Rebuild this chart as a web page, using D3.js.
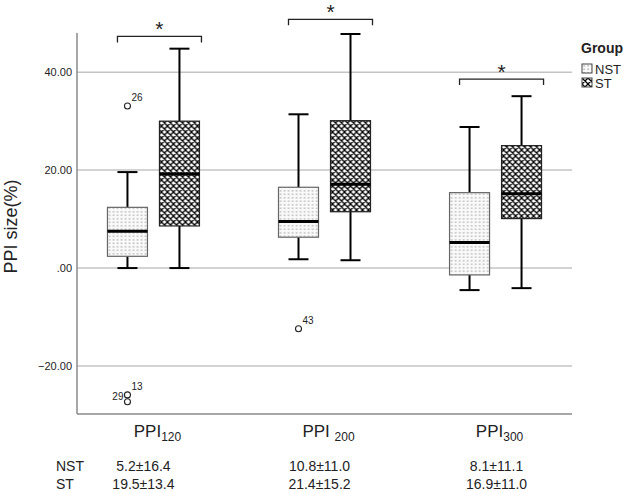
<!DOCTYPE html>
<html>
<head>
<meta charset="utf-8">
<script src="https://cdn.jsdelivr.net/npm/d3@7"></script>
<style>
  body { margin: 0; background: #fff; }
  svg { display: block; font-family: "Liberation Sans", Arial, sans-serif; }
</style>
</head>
<body>
<svg id="chart" width="624" height="491"></svg>
<script>
// chart values
const doses = ["120", "200", "300"];
const groups = ["NST", "ST"];
// [whiskerLow, q1, median, q3, whiskerHigh] for each dose, NST then ST
const nstBoxes = [
    [0.0, 2.4, 7.5, 12.4, 19.6],
    [1.8, 6.3, 9.5, 16.5, 31.4],
    [-4.5, -1.4, 5.2, 15.4, 28.8]
];
const stBoxes = [
    [0.0, 8.6, 19.2, 30.0, 44.8],
    [1.6, 11.5, 17.1, 30.1, 47.8],
    [-4.1, 10.1, 15.2, 25.0, 35.1]
];
const outlierDose = ["120", "120", "120", "200"];
const outlierValue = [33.1, -25.9, -27.3, -12.4];
const outlierId = ["26", "13", "29", "43"];
const bracketLevel = [47.3, 50.8, 38.6];
const yTicks = [-20, 0, 20, 40];
const nstStats = ["5.2\u00b116.4", "10.8\u00b111.0", "8.1\u00b111.1"];
const stStats = ["19.5\u00b113.4", "21.4\u00b115.2", "16.9\u00b111.0"];

const svg = d3.select("#chart");
const plotL = 77, plotR = 572, plotT = 33, plotB = 414;

const x = d3.scalePoint().domain(doses).range([plotL, plotR]).padding(0.447);
const xg = d3.scalePoint().domain(groups).range([-26, 26]);
const y = d3.scaleLinear().domain([-29.8, 48]).range([plotB, plotT]);
const boxW = 40;

// fill patterns
const defs = svg.append("defs");
const dots = defs.append("pattern").attr("id", "dots")
    .attr("patternUnits", "userSpaceOnUse").attr("width", 4).attr("height", 3.5);
dots.append("rect").attr("width", 4).attr("height", 3.5).attr("fill", "#fafafa");
dots.append("rect").attr("x", 1.5).attr("y", 1.2).attr("width", 1.2).attr("height", 1.2).attr("fill", "#8c8c8c");

const hatch = defs.append("pattern").attr("id", "hatch")
    .attr("patternUnits", "userSpaceOnUse").attr("width", 6).attr("height", 6);
hatch.append("rect").attr("width", 6).attr("height", 6).attr("fill", "#fff");
hatch.append("path").attr("d", "M0,0L6,6M6,0L0,6M-1,5L1,7M5,-1L7,1M-1,1L1,-1M5,7L7,5")
    .attr("stroke", "#000").attr("stroke-width", 1.3);

// gridlines
svg.append("g").selectAll("line").data(yTicks).join("line")
    .attr("x1", plotL).attr("x2", plotR)
    .attr("y1", d => y(d)).attr("y2", d => y(d))
    .attr("stroke", "#c4c4c4").attr("stroke-width", 1.5);

// axes
const yAxis = svg.append("g").attr("transform", `translate(${plotL},0)`)
    .call(d3.axisLeft(y).tickValues(yTicks).tickSize(0).tickPadding(5)
        .tickFormat(d => d === 0 ? ".00" : d3.format(".2f")(d)));
yAxis.select(".domain").remove();
yAxis.selectAll("text").attr("font-size", 11).attr("fill", "#222")
    .attr("font-family", "Liberation Sans, Arial, sans-serif");

svg.append("line").attr("x1", plotL).attr("x2", plotL).attr("y1", plotT).attr("y2", plotB)
    .attr("stroke", "#8a8a8a").attr("stroke-width", 1.5);
svg.append("line").attr("x1", plotL).attr("x2", plotR).attr("y1", plotB).attr("y2", plotB)
    .attr("stroke", "#8a8a8a").attr("stroke-width", 1.5);

svg.append("text")
    .attr("transform", `translate(17,${(plotT + plotB) / 2 + 3}) rotate(-90)`)
    .attr("text-anchor", "middle").attr("font-size", 18).attr("fill", "#222")
    .text("PPI size(%)");

// boxes
const boxes = [];
doses.forEach((d, i) => {
    boxes.push({ dose: d, group: "NST", v: nstBoxes[i] });
    boxes.push({ dose: d, group: "ST", v: stBoxes[i] });
});

const bx = svg.append("g").selectAll("g").data(boxes).join("g")
    .attr("transform", d => `translate(${x(d.dose) + xg(d.group)},0)`);

bx.append("line").attr("x1", 0).attr("x2", 0)
    .attr("y1", d => y(d.v[0])).attr("y2", d => y(d.v[4]))
    .attr("stroke", "#000").attr("stroke-width", 2);
bx.selectAll(".cap").data(d => [d.v[0], d.v[4]]).join("line").attr("class", "cap")
    .attr("x1", -10).attr("x2", 10)
    .attr("y1", v => y(v)).attr("y2", v => y(v))
    .attr("stroke", "#000").attr("stroke-width", 2);
bx.append("rect")
    .attr("x", -boxW / 2).attr("width", boxW)
    .attr("y", d => y(d.v[3])).attr("height", d => y(d.v[1]) - y(d.v[3]))
    .attr("fill", d => d.group === "NST" ? "url(#dots)" : "url(#hatch)")
    .attr("stroke", d => d.group === "NST" ? "#666" : "#222")
    .attr("stroke-width", 1.2);
bx.append("line").attr("x1", -boxW / 2).attr("x2", boxW / 2)
    .attr("y1", d => y(d.v[2])).attr("y2", d => y(d.v[2]))
    .attr("stroke", "#000").attr("stroke-width", 3);

// outliers (all belong to NST)
const outliers = outlierValue.map((v, i) => ({ dose: outlierDose[i], v, id: outlierId[i] }));
const og = svg.append("g").selectAll("g").data(outliers).join("g")
    .attr("transform", d => `translate(${x(d.dose) + xg("NST")},${y(d.v)})`);
og.append("circle").attr("r", 3).attr("fill", "none").attr("stroke", "#222").attr("stroke-width", 1.1);
og.append("text")
    .attr("x", d => d.id === "29" ? -4 : 4)
    .attr("y", d => d.id === "29" ? -2 : -5)
    .attr("text-anchor", d => d.id === "29" ? "end" : "start")
    .attr("font-size", 10).attr("fill", "#222")
    .text(d => d.id);

// significance brackets
const br = svg.append("g").selectAll("g").data(doses).join("g")
    .attr("transform", (d, i) => `translate(${x(d)},${y(bracketLevel[i])})`);
br.append("path").attr("d", "M-36,6V0H48V6")
    .attr("fill", "none").attr("stroke", "#222").attr("stroke-width", 1.3);
br.append("text").attr("x", 6).attr("y", 0).attr("text-anchor", "middle")
    .attr("font-size", 21).attr("fill", "#222").text("*");

// x category labels
const xl = svg.append("g").selectAll("text").data(doses).join("text")
    .attr("x", d => x(d) + 4).attr("y", 437)
    .attr("text-anchor", "middle").attr("font-size", 17).attr("fill", "#222");
xl.append("tspan").text(d => d === "200" ? "PPI " : "PPI");
xl.append("tspan").attr("font-size", 12).attr("dy", 4).text(d => d);

// legend
const lg = svg.append("g").attr("transform", "translate(581,0)");
lg.append("text").attr("x", 0).attr("y", 53).attr("font-size", 14).attr("font-weight", "bold")
    .attr("fill", "#222").text("Group");
const li = lg.selectAll(".li").data(groups).join("g").attr("class", "li")
    .attr("transform", (d, i) => `translate(1,${64 + i * 14})`);
li.append("rect").attr("width", 10).attr("height", 9)
    .attr("fill", d => d === "NST" ? "url(#dots)" : "url(#hatch)")
    .attr("stroke", "#444").attr("stroke-width", 1);
li.append("text").attr("x", 13).attr("y", 10).attr("font-size", 13).attr("fill", "#222").text(d => d);

// summary rows
const rows = [nstStats, stStats];
groups.forEach((g, r) => {
    const yy = 471 + r * 18;
    svg.append("text").attr("x", 56).attr("y", yy).attr("font-size", 14).attr("fill", "#222").text(g);
    svg.append("g").selectAll("text").data(doses).join("text")
        .attr("x", (d, i) => x(d) - [10, 5, -1][i]).attr("y", yy)
        .attr("text-anchor", "middle").attr("font-size", 14).attr("fill", "#222")
        .text((d, i) => rows[r][i]);
});
</script>
</body>
</html>
